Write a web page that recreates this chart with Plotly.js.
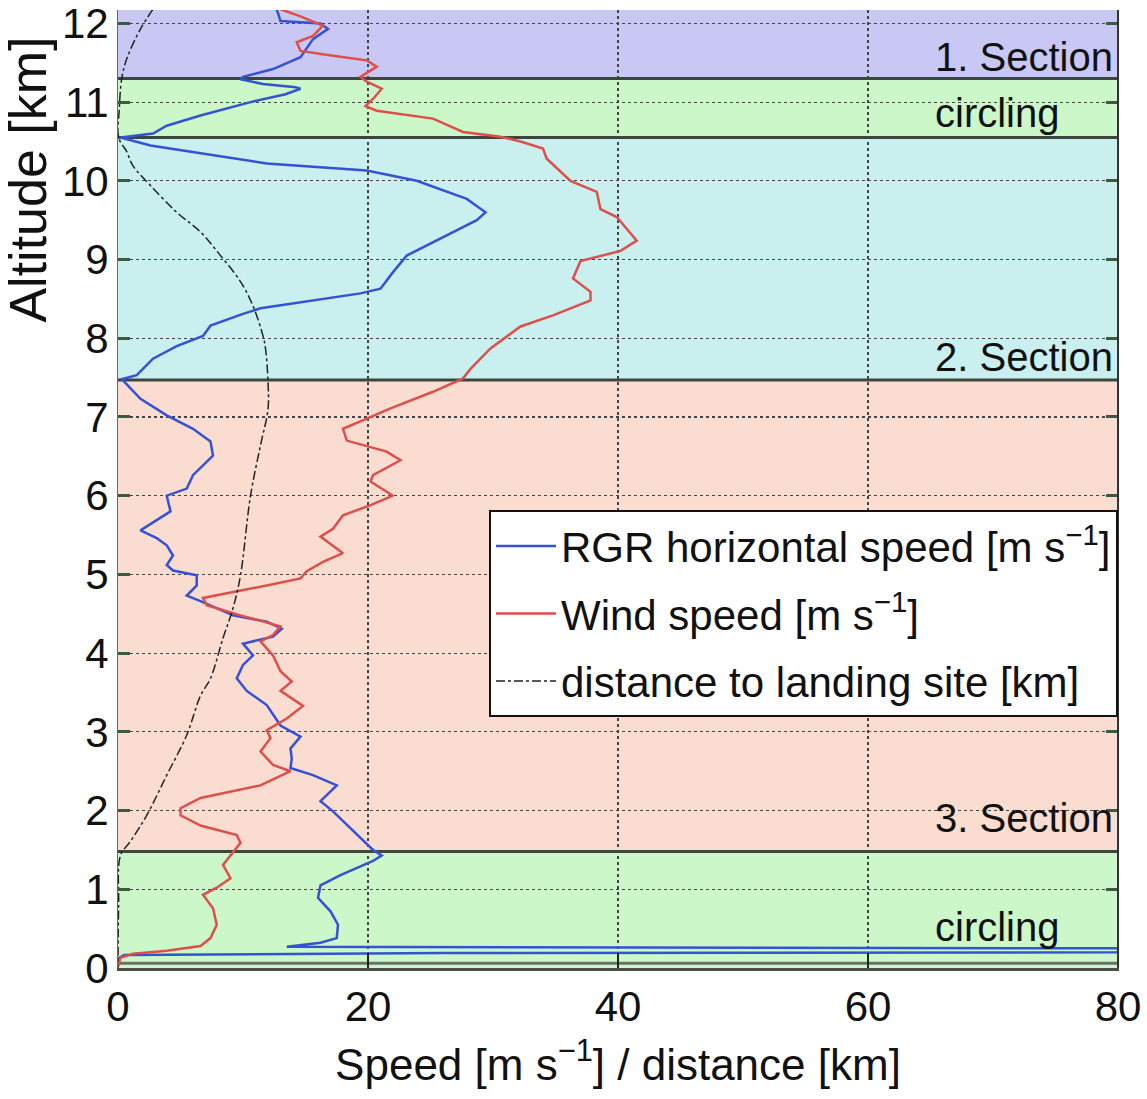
<!DOCTYPE html>
<html>
<head>
<meta charset="utf-8">
<script src="https://cdn.plot.ly/plotly-3.0.1.min.js"></script>
<style>html,body{margin:0;padding:0;background:#fff;}#chart{width:1147px;height:1099px;}</style>
</head>
<body>
<div id="chart"></div>
<script>
// ---- Data ----
// RGR horizontal speed [m/s] vs altitude [km]
const rgrSpeed = [12.7,13.0,16.2,16.8,15.6,15.1,14.6,12.4,10.0,9.8,11.6,14.2,14.6,13.4,10.6,6.6,3.9,2.8,0.2,
  2.6,11.9,19.9,23.9,27.9,29.4,28.7,25.2,23.1,22.0,21.0,19.4,11.4,10.0,7.4,6.8,4.7,2.8,1.5,0.3,
  1.8,3.9,6.0,7.4,7.6,6.0,5.5,3.9,4.2,1.8,3.1,3.9,4.4,3.9,4.4,6.3,6.3,5.5,6.6,9.2,11.9,13.1,12.4,10.0,10.8,
  10.0,9.5,10.3,11.9,13.0,14.6,13.8,13.9,13.8,15.6,17.5,16.2,17.2,18.3,19.4,20.4,21.1,20.4,17.8,16.2,16.0,
  17.0,17.6,17.5,16.2,13.5,80,80,26,0.5,0];
const rgrAlt = [12.18,12.03,12.0,11.93,11.8,11.68,11.57,11.42,11.32,11.29,11.23,11.19,11.17,11.1,11.0,10.83,10.7,10.6,10.55,
  10.45,10.22,10.13,10.0,9.77,9.6,9.5,9.22,9.05,8.84,8.63,8.57,8.38,8.31,8.16,8.03,7.9,7.74,7.53,7.48,
  7.23,7.02,6.85,6.69,6.51,6.26,6.09,6.0,5.8,5.56,5.46,5.37,5.24,5.12,5.05,4.99,4.86,4.73,4.66,4.48,4.40,4.31,4.21,4.12,3.97,
  3.85,3.68,3.52,3.34,3.08,2.94,2.79,2.66,2.54,2.45,2.32,2.12,1.99,1.82,1.65,1.50,1.43,1.36,1.18,1.05,0.89,
  0.72,0.55,0.38,0.32,0.27,0.25,0.2,0.19,0.165,0.12];

// Wind speed [m/s] vs altitude [km]
const windSpeed = [13.0,14.6,16.4,15.6,14.3,14.6,17.2,19.9,20.7,19.4,19.9,21.1,20.4,19.8,20.7,25.2,27.6,30.6,32.2,34.0,
  34.3,36.2,38.3,38.6,39.9,41.5,40.2,37.0,36.4,37.8,37.8,34.8,32.2,29.8,28.2,27.6,25.2,21.8,19.9,18.0,
  18.3,21.5,22.6,20.4,20.2,22.0,20.2,18.0,17.2,16.2,18.0,16.4,15.1,14.6,11.9,9.2,6.8,7.1,9.8,13.0,
  12.4,11.4,12.4,13.0,13.9,13.0,14.8,13.5,11.9,12.2,11.4,12.4,13.8,11.4,6.6,5.0,5.0,6.6,9.5,9.8,
  9.0,8.4,9.0,7.9,6.8,7.6,7.9,7.4,6.6,3.9,1.2,0.2,0];
const windAlt = [12.18,12.09,11.97,11.84,11.76,11.65,11.59,11.53,11.45,11.32,11.26,11.17,11.04,10.95,10.89,10.79,10.62,10.56,10.5,10.41,
  10.28,10.0,9.86,9.64,9.54,9.24,9.11,8.98,8.76,8.59,8.48,8.29,8.15,7.87,7.61,7.49,7.32,7.11,6.98,6.85,
  6.70,6.56,6.45,6.26,6.18,6.0,5.88,5.75,5.58,5.48,5.27,5.16,5.04,4.95,4.86,4.78,4.70,4.61,4.48,4.34,
  4.23,4.15,3.97,3.77,3.64,3.52,3.33,3.17,3.02,2.92,2.75,2.58,2.50,2.32,2.16,2.03,1.94,1.81,1.69,1.59,
  1.43,1.31,1.14,1.02,0.93,0.76,0.55,0.38,0.28,0.22,0.18,0.13,0.02];

// Distance to landing site [km] vs altitude [km]
const distKm = [2.8,1.8,0.7,0.3,0.1,0.05,0.7,1.2,2.6,4.7,6.6,8.2,9.8,10.8,11.6,11.8,12.0,12.0,11.4,10.6,9.8,9.2,8.4,7.4,6.6,5.5,3.9,2.3,1.0,0.2,0.05,0];
const distAlt = [12.18,11.93,11.55,11.3,10.9,10.55,10.37,10.19,9.94,9.6,9.35,9.05,8.72,8.41,8.03,7.87,7.45,7.1,6.64,6.0,4.99,4.57,4.19,3.68,3.46,2.96,2.45,1.94,1.61,1.43,0.8,0];

// Flight sections (altitude bounds, km) and their labels
const sectionBottoms = [0, 1.48, 7.47, 10.55, 11.3];
const sectionTops    = [1.48, 7.47, 10.55, 11.3, 12.17];
const sectionColors  = ['#ccf7c9', '#fbdcd0', '#c9f0ef', '#ccf7c9', '#c9c8f5'];
const sectionLabels  = ['circling', '3. Section', '2. Section', 'circling', '1. Section'];
const sectionLabelAlt = [0.52, 1.9, 7.76, 10.86, 11.57];

const xTicks = [0, 20, 40, 60, 80];
const yTicks = [0,1,2,3,4,5,6,7,8,9,10,11,12];

// ---- Build ----
const FONT = 'Liberation Sans, Arial, Helvetica, sans-serif';

const traces = [
  {x: rgrSpeed, y: rgrAlt, mode: 'lines', name: 'RGR horizontal speed [m s<sup>−1</sup>]',
   line: {color: '#3452d4', width: 2.5}, legendgroup: 'a'},
  {x: windSpeed, y: windAlt, mode: 'lines', name: 'Wind speed [m s<sup>−1</sup>]',
   line: {color: '#de4f4c', width: 2.5}, legendgroup: 'b'},
  {x: distKm, y: distAlt, mode: 'lines', name: 'distance to landing site [km]',
   line: {color: '#222', width: 1.5, dash: 'dashdot', shape: 'spline'}, legendgroup: 'c'}
];

const shapes = [];
const annotations = [];
for (let i = 0; i < sectionBottoms.length; i++) {
  shapes.push({type: 'rect', xref: 'paper', yref: 'y', x0: 0, x1: 1,
    y0: sectionBottoms[i], y1: sectionTops[i], fillcolor: sectionColors[i],
    line: {width: 0}, layer: 'below'});
  if (i > 0) {
    shapes.push({type: 'line', xref: 'paper', yref: 'y', x0: 0, x1: 1,
      y0: sectionBottoms[i], y1: sectionBottoms[i], line: {color: '#3b463e', width: 3}, layer: 'between'});
  }
  annotations.push({x: 65.2, y: sectionLabelAlt[i], xref: 'x', yref: 'y', text: sectionLabels[i],
    showarrow: false, xanchor: 'left', yanchor: 'middle', font: {family: FONT, size: 40, color: '#111'}});
}
// thin grey line just above the ground
shapes.push({type: 'line', xref: 'paper', yref: 'y', x0: 0, x1: 1, y0: 0.06, y1: 0.06,
  line: {color: '#6b6f6b', width: 3}, layer: 'between'});
// right frame
shapes.push({type: 'line', xref: 'paper', yref: 'paper', x0: 1, x1: 1, y0: 0, y1: 1,
  line: {color: '#333', width: 2}, layer: 'above'});

annotations.push({xref: 'paper', yref: 'paper', x: -0.09, y: 0.823, text: 'Altitude [km]',
  textangle: -90, showarrow: false, xanchor: 'center', yanchor: 'middle',
  font: {family: FONT, size: 52, color: '#111'}});

const layout = {
  width: 1147, height: 1099,
  margin: {l: 118, r: 29, t: 10, b: 131},
  paper_bgcolor: '#fff', plot_bgcolor: '#fff',
  font: {family: FONT, color: '#111'},
  showlegend: true,
  legend: {x: 1, xanchor: 'right', y: 0.478, yanchor: 'top',
    bgcolor: '#fff', bordercolor: '#111', borderwidth: 2,
    font: {family: FONT, size: 42, color: '#111'}, itemwidth: 60,
    tracegroupgap: 10, traceorder: 'grouped'},
  xaxis: {range: [0, 80], tickvals: xTicks, ticktext: xTicks.map(String),
    showgrid: true, gridcolor: '#444', griddash: 'dot', gridwidth: 1.2,
    zeroline: false, ticks: 'inside', ticklen: 15, tickwidth: 2, tickcolor: '#222',
    showline: true, linecolor: '#4a4f4a', linewidth: 3,
    tickfont: {family: FONT, size: 42, color: '#111'},
    title: {text: 'Speed [m s<sup>−1</sup>] / distance [km]', font: {family: FONT, size: 44, color: '#111'}, standoff: 20}},
  yaxis: {range: [0, 12.17], tickvals: yTicks, ticktext: yTicks.map(String),
    showgrid: true, gridcolor: '#444', griddash: 'dot', gridwidth: 1.2,
    zeroline: false, ticks: 'inside', ticklen: 12, tickwidth: 3, tickcolor: '#3b5a40',
    showline: true, linecolor: '#666', linewidth: 1, mirror: 'ticks',
    tickfont: {family: FONT, size: 42, color: '#111'}},
  shapes: shapes,
  annotations: annotations
};

Plotly.newPlot('chart', traces, layout, {displayModeBar: false, staticPlot: true});
</script>
</body>
</html>
